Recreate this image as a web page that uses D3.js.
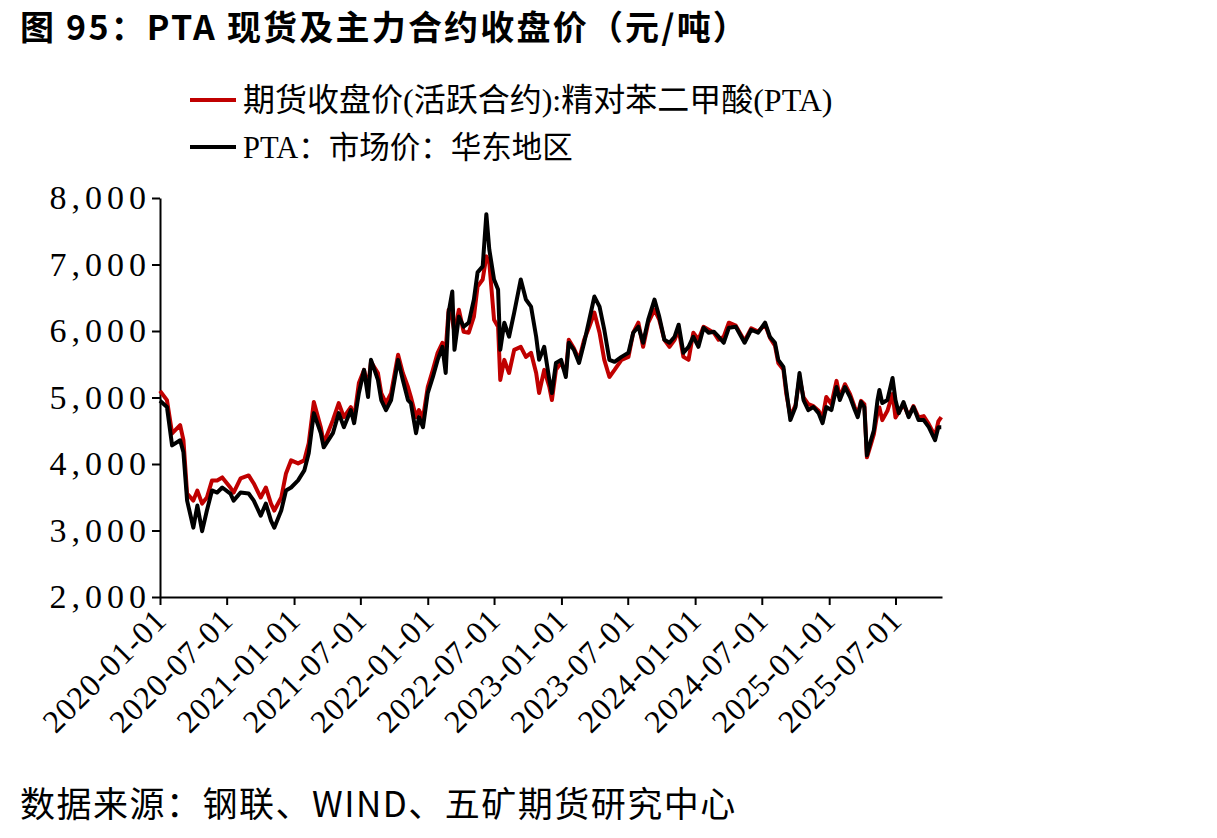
<!DOCTYPE html>
<html lang="zh">
<head>
<meta charset="UTF-8">
<title>PTA 现货及主力合约收盘价</title>
<script src="https://d3js.org/d3.v7.min.js"></script>
<style>
  body { margin: 0; background: #fff; }
  svg { display: block; }
  .tick text { font-family: "Liberation Serif", serif; fill: #000; }
</style>
</head>
<body>
<div id="chart"></div>
<script>
// dates (roughly twice a month) and the two series
const dates = [
  "2020-01-01","2020-01-20","2020-02-03","2020-02-25","2020-03-05","2020-03-15","2020-04-01","2020-04-12","2020-04-25","2020-05-08","2020-05-22","2020-06-05","2020-06-19","2020-07-11","2020-07-20","2020-08-08","2020-08-30","2020-09-13","2020-10-02","2020-10-16","2020-10-30","2020-11-08","2020-11-27","2020-12-10","2020-12-24",
  "2021-01-12","2021-01-29","2021-02-10","2021-02-24","2021-03-15","2021-03-23","2021-04-17","2021-05-03","2021-05-17","2021-06-05","2021-06-14","2021-06-27","2021-07-11","2021-07-22","2021-07-30","2021-08-18","2021-08-27","2021-09-09","2021-09-23","2021-10-12","2021-10-25","2021-11-08","2021-11-16","2021-11-30","2021-12-08","2021-12-19",
  "2022-01-01","2022-01-15","2022-01-28","2022-02-10","2022-02-19","2022-02-27","2022-03-09","2022-03-15","2022-03-27","2022-04-09","2022-04-23","2022-05-07","2022-05-17","2022-05-31","2022-06-10","2022-06-18","2022-07-01","2022-07-12","2022-07-18","2022-07-29","2022-08-11","2022-08-25","2022-09-12","2022-09-26","2022-10-10","2022-10-24","2022-11-01","2022-11-15","2022-11-29","2022-12-06","2022-12-17","2022-12-31",
  "2023-01-13","2023-01-21","2023-02-04","2023-02-18","2023-03-04","2023-03-18","2023-04-01","2023-04-15","2023-04-28","2023-05-12","2023-05-26","2023-06-14","2023-07-03","2023-07-16","2023-07-30","2023-08-12","2023-08-26","2023-09-12","2023-09-25","2023-10-09","2023-10-23","2023-11-06","2023-11-17","2023-11-30","2023-12-14","2023-12-27",
  "2024-01-10","2024-01-24","2024-02-07","2024-02-21","2024-03-05","2024-03-19","2024-04-02","2024-04-21","2024-05-15","2024-06-02","2024-06-21","2024-07-10","2024-07-23","2024-08-06","2024-08-15","2024-08-29","2024-09-06","2024-09-17","2024-10-01","2024-10-12","2024-10-23","2024-11-05","2024-11-19","2024-12-03","2024-12-14","2024-12-24",
  "2025-01-07","2025-01-21","2025-01-30","2025-02-13","2025-02-27","2025-03-12","2025-03-20","2025-03-29","2025-04-07","2025-04-14","2025-04-25","2025-05-03","2025-05-13","2025-05-18","2025-05-26","2025-06-09","2025-06-23","2025-07-01","2025-07-10","2025-07-23","2025-08-06","2025-08-19","2025-09-02","2025-09-16","2025-09-30","2025-10-17","2025-10-26","2025-11-03"
];

// 期货收盘价(活跃合约):精对苯二甲酸(PTA)
const futures = [
  5100,4960,4460,4585,4357,3556,3450,3600,3405,3496,3753,3753,3798,3647,3571,3783,3828,3707,3496,3647,3405,3300,3496,3858,4055,
  4009,4055,4311,4932,4554,4311,4660,4916,4705,4856,4690,5218,5415,5158,5536,5369,5067,4916,5067,5642,5369,5158,5007,4705,4811,4690,
  5158,5415,5672,5823,5717,6321,6170,5974,6321,5989,5974,6216,6669,6775,7122,7031,6170,6064,5264,5566,5369,5717,5762,5611,5672,5369,5067,5415,5158,4962,5415,5520,
  5370,5868,5740,5566,5868,6064,6276,5974,5566,5309,5415,5566,5611,5974,6125,5762,6125,6321,6170,5868,5762,5868,6019,5611,5566,5974,
  5868,6064,6019,5974,5868,5914,6125,6080,5850,6040,5990,6100,5900,5780,5520,5420,5050,4720,4880,5300,5000,4900,4870,4800,4700,5007,
  4900,5250,5000,5200,5050,4850,4750,4950,4900,4100,4300,4450,4780,4850,4660,4800,5050,4700,4780,4900,4720,4870,4700,4720,4600,4420,4640,4705
];

// PTA：市场价：华东地区
const spot = [
  4950,4856,4280,4357,4176,3450,3043,3375,2990,3300,3602,3571,3647,3556,3450,3571,3556,3450,3224,3405,3148,3043,3300,3602,3647,
  3753,3904,4160,4765,4463,4251,4463,4765,4554,4811,4614,5067,5415,5007,5566,5264,4962,4811,4962,5566,5264,4962,4916,4463,4705,4554,
  5067,5309,5566,5762,5369,6276,6594,5717,6216,6064,6125,6473,6881,6972,7757,7228,6775,6624,5717,6125,5914,6276,6775,6473,6367,5914,5566,5762,5264,5067,5520,5566,
  5309,5823,5717,5520,5823,6170,6518,6367,6019,5566,5536,5611,5672,5974,6064,5823,6170,6473,6216,5868,5823,5914,6095,5672,5762,5914,
  5762,6049,5974,5989,5914,5823,6049,6064,5823,6019,5974,6125,5914,5823,5566,5460,5113,4660,4856,5369,4962,4811,4856,4765,4614,4856,
  4811,5158,4962,5158,5007,4811,4705,4932,4856,4130,4357,4508,4962,5113,4916,4962,5294,4962,4765,4932,4705,4856,4660,4660,4554,4357,4554,4554
];

const yTicks = [2000, 3000, 4000, 5000, 6000, 7000, 8000];
const xTicks = ["2020-01-01","2020-07-01","2021-01-01","2021-07-01","2022-01-01","2022-07-01",
                "2023-01-01","2023-07-01","2024-01-01","2024-07-01","2025-01-01","2025-07-01"];
const xEnd = "2025-11-05";

const W = 1217, H = 838;
const parse = d3.timeParse("%Y-%m-%d");

const svg = d3.select("#chart").append("svg")
    .attr("width", W)
    .attr("height", H);

// title
svg.append("text")
    .attr("x", 20)
    .attr("y", 40)
    .attr("font-family", "'Noto Sans CJK SC', sans-serif")
    .attr("font-weight", 700)
    .attr("font-size", 34)
    .attr("letter-spacing", 2.2)
    .text("图 95：PTA 现货及主力合约收盘价（元/吨）");

// scales
const x = d3.scaleTime()
    .domain([parse("2020-01-01"), parse(xEnd)])
    .range([160, 942]);
const y = d3.scaleLinear()
    .domain([2000, 8000])
    .range([597, 198]);

// axes
const yAxis = svg.append("g")
    .attr("transform", "translate(160,0)")
    .call(d3.axisLeft(y).tickValues(yTicks).tickFormat(d3.format(",")).tickSize(8).tickSizeOuter(0).tickPadding(1));
yAxis.selectAll("text")
    .attr("font-size", 34)
    .attr("letter-spacing", 5);

const xAxis = svg.append("g")
    .attr("transform", "translate(0,597)")
    .call(d3.axisBottom(x).tickValues(xTicks.map(parse)).tickFormat(d3.timeFormat("%Y-%m-%d")).tickSize(8).tickSizeOuter(0));
xAxis.selectAll("text")
    .attr("font-size", 32)
    .attr("letter-spacing", 1)
    .attr("text-anchor", "end")
    .attr("x", 0)
    .attr("y", 0)
    .attr("dy", "0.35em")
    .attr("transform", "translate(0,17) rotate(-45)");

svg.selectAll(".domain, .tick line").attr("stroke", "#000").attr("stroke-width", 2);

// lines
const rows = dates.map((d, i) => ({date: parse(d), fut: futures[i], spot: spot[i]}));

svg.append("path")
    .datum(rows)
    .attr("fill", "none")
    .attr("stroke", "#C00000")
    .attr("stroke-width", 4)
    .attr("stroke-linejoin", "round")
    .attr("d", d3.line().x(d => x(d.date)).y(d => y(d.fut)));

svg.append("path")
    .datum(rows)
    .attr("fill", "none")
    .attr("stroke", "#000")
    .attr("stroke-width", 4)
    .attr("stroke-linejoin", "round")
    .attr("d", d3.line().x(d => x(d.date)).y(d => y(d.spot)));

// legend
const legend = [
  {label: "期货收盘价(活跃合约):精对苯二甲酸(PTA)", color: "#C00000", y: 100, size: 32},
  {label: "PTA：市场价：华东地区", color: "#000", y: 147, size: 30.5}
];
const lg = svg.append("g").selectAll("g").data(legend).enter().append("g");
lg.append("line")
    .attr("x1", 190).attr("x2", 236)
    .attr("y1", d => d.y).attr("y2", d => d.y)
    .attr("stroke", d => d.color)
    .attr("stroke-width", 4);
lg.append("text")
    .attr("x", 243)
    .attr("y", d => d.y + 11)
    .attr("font-family", "'Liberation Serif', 'Noto Sans CJK SC', serif")
    .attr("font-size", d => d.size)
    .text(d => d.label);

// source
svg.append("text")
    .attr("x", 20)
    .attr("y", 817)
    .attr("font-family", "'Noto Sans CJK SC', sans-serif")
    .attr("font-size", 35)
    .attr("letter-spacing", 1.5)
    .text("数据来源：钢联、WIND、五矿期货研究中心");
</script>
</body>
</html>
